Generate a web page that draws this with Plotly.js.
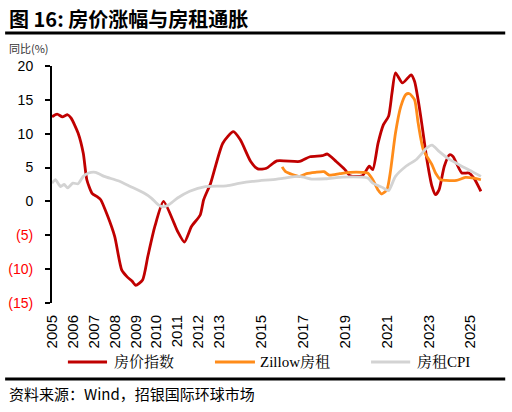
<!DOCTYPE html>
<html><head><meta charset="utf-8">
<script src="https://cdn.plot.ly/plotly-3.0.1.min.js"></script>
<style>html,body{margin:0;padding:0;background:#fff;}#chart{width:512px;height:412px;}</style>
</head><body><div id="chart"></div>
<script>
// 房价指数 (Case-Shiller YoY %)
const hpDates = ['2005-01','2005-04','2005-07','2005-10','2005-12','2006-04','2006-07','2006-09','2006-12','2007-03','2007-05','2007-09','2008-01','2008-05','2008-08','2008-11','2009-01','2009-05','2009-08','2009-12','2010-05','2010-11','2011-01','2011-05','2011-09','2012-02','2012-04','2012-08','2013-03','2013-09','2014-01','2014-07','2014-11','2015-04','2015-10','2016-11','2017-05','2017-12','2018-03','2018-08','2019-01','2019-04','2019-11','2020-03','2020-05','2020-08','2020-11','2021-02','2021-04','2021-06','2021-10','2022-03','2022-05','2022-07','2022-09','2022-12','2023-03','2023-05','2023-07','2023-10','2024-01','2024-03','2024-08','2024-12','2025-03','2025-07'];
const hpValues = [12.5,12.9,12.5,12.8,12.3,10.1,7.1,3.2,1.2,0.7,0.25,-2.2,-5.2,-10.1,-11.1,-11.8,-12.4,-11.6,-8.1,-3.7,0.0,-3.2,-4.4,-6.0,-3.7,-2.0,0.25,2.7,8.6,10.3,9.1,5.9,4.8,4.9,6.0,5.9,6.6,6.75,7.0,5.9,4.7,3.8,3.8,5.2,4.7,8.6,11.3,12.6,16.0,19.0,17.5,18.7,17.7,15.0,11.6,6.2,2.2,1.0,1.7,5.2,6.9,6.65,4.2,4.2,3.45,1.5];

// Zillow房租
const zwDates = ['2016-01','2016-03','2016-11','2017-03','2017-08','2018-01','2018-04','2018-10','2019-04','2019-11','2020-02','2020-05','2020-08','2020-10','2021-01','2021-03','2021-06','2021-09','2021-12','2022-02','2022-05','2022-07','2022-10','2023-03','2023-05','2023-08','2023-11','2024-05','2024-10','2025-03','2025-07'];
const zwValues = [5.1,4.4,3.7,4.1,4.3,4.4,3.9,4.1,4.3,4.3,4.2,3.2,1.7,1.1,1.7,4.2,10.1,14.0,15.8,15.9,15.0,11.6,7.6,5.4,4.2,3.2,3.1,3.1,3.55,3.45,3.2];

// 房租CPI
const cpiDates = ['2005-01','2005-03','2005-06','2005-08','2005-10','2006-01','2006-04','2006-07','2006-10','2007-02','2007-07','2008-03','2008-10','2009-06','2009-10','2010-02','2010-05','2010-08','2011-01','2011-08','2012-05','2013-05','2014-01','2014-08','2015-10','2016-02','2016-11','2017-06','2018-02','2018-12','2020-02','2020-05','2020-11','2021-02','2021-06','2021-12','2022-06','2022-12','2023-03','2023-07','2024-01','2024-08','2025-02','2025-07'];
const cpiValues = [2.7,3.2,2.2,2.5,2.0,2.7,2.6,3.7,4.2,4.3,3.7,3.05,2.2,1.2,0.5,-0.5,-0.8,-0.5,0.5,1.5,2.2,2.3,2.7,2.95,3.3,3.45,3.7,3.3,3.35,3.6,3.45,2.7,2.0,1.6,3.7,5.2,6.2,7.9,8.3,7.4,6.2,5.2,4.4,3.7];

const seriesNames = ['房价指数','Zillow房租','房租CPI'];
const seriesColors = ['#C00000','#FF8C1A','#D3D3D3'];
const tickYears = ['2005','2006','2007','2008','2009','2010','2011','2012','2013','2014','2015','2016','2017','2018','2019','2020','2021','2022','2023','2024','2025'];
const labelYears = ['2005','2006','2007','2008','2009','2010','2011','2012','2013','2015','2017','2019','2021','2023','2025'];
const yTickVals = [20,15,10,5,0,-5,-10,-15];
const yTickText = ['20','15','10','5','0','(5)','(10)','(15)'];

const xRange = ['2005-01-01','2025-07-20'];
const fontCJK = '"Noto Sans CJK SC", "Liberation Sans", sans-serif';
const fontLegend = '"Liberation Serif", "Noto Serif CJK SC", "Noto Sans CJK SC", serif';
const sansFont = '"Liberation Sans", Arial, sans-serif';

const xs = [hpDates, zwDates, cpiDates];
const ys = [hpValues, zwValues, cpiValues];
const traces = xs.map((x, i) => ({
  x: x, y: ys[i], name: seriesNames[i], type: 'scatter', mode: 'lines',
  line: {color: seriesColors[i], width: 2.8, shape: 'spline', smoothing: 0.6}
}));

const yText = yTickText.map((t, i) => yTickVals[i] < 0 ? '<span style="color:#FF0000">' + t + '</span>' : t);

// manual legend placement (paper coords)
const legX = [[0.037, 0.128, 0.140], [0.379, 0.472, 0.479], [0.742, 0.833, 0.845]];
const legY = -0.249;

const shapes = [
  {type: 'line', xref: 'paper', yref: 'paper', x0: -0.109, x1: 1.054, y0: 1.139, y1: 1.139, line: {color: '#000', width: 3}},
  {type: 'line', xref: 'paper', yref: 'paper', x0: -0.109, x1: 1.054, y0: -0.321, y1: -0.321, line: {color: '#000', width: 3}}
];
const annotations = [
  {text: '<b>图 16: 房价涨幅与房租通胀</b>', xref: 'paper', yref: 'paper', x: -0.104, y: 1.2025,
   xanchor: 'left', yanchor: 'middle', showarrow: false, font: {size: 20, family: fontCJK, color: '#000'}},
  {text: '同比(%)', xref: 'paper', yref: 'paper', x: -0.104, y: 1.074,
   xanchor: 'left', yanchor: 'middle', showarrow: false, font: {size: 11, family: fontCJK, color: '#333'}},
  {text: '资料来源：Wind，招银国际环球市场', xref: 'paper', yref: 'paper', x: -0.104, y: -0.380,
   xanchor: 'left', yanchor: 'middle', showarrow: false, font: {size: 15, family: fontCJK, color: '#000'}}
];
seriesNames.forEach((n, i) => {
  shapes.push({type: 'line', xref: 'paper', yref: 'paper', x0: legX[i][0], x1: legX[i][1], y0: legY, y1: legY,
    line: {color: seriesColors[i], width: 3}});
  annotations.push({text: n, xref: 'paper', yref: 'paper', x: legX[i][2], y: legY, xanchor: 'left', yanchor: 'middle',
    showarrow: false, font: {size: 15, family: fontLegend, color: '#000'}});
});

const layout = {
  width: 512, height: 412,
  margin: {l: 52, r: 30, t: 66, b: 109},
  paper_bgcolor: '#fff', plot_bgcolor: '#fff',
  showlegend: false,
  font: {family: sansFont, size: 14, color: '#000'},
  xaxis: {
    type: 'date', range: xRange, showgrid: false, zeroline: false, showline: false,
    tickmode: 'array', tickvals: labelYears.map(y => y + '-01-01'), ticktext: labelYears,
    tickangle: -90, ticks: '', ticklabelstandoff: 8, tickfont: {size: 15, family: sansFont}
  },
  xaxis2: {
    type: 'date', range: xRange, overlaying: 'x', anchor: 'free', position: 15/35,
    showgrid: false, zeroline: false, showline: true, linecolor: '#000', linewidth: 2,
    tickmode: 'array', tickvals: tickYears.map(y => y + '-01-01'), showticklabels: false,
    ticks: 'outside', ticklen: 5, tickwidth: 2, tickcolor: '#000'
  },
  yaxis: {
    range: [-15, 20], showgrid: false, zeroline: false, showline: true, linecolor: '#000', linewidth: 2,
    tickmode: 'array', tickvals: yTickVals, ticktext: yText,
    ticks: 'outside', ticklen: 5, tickwidth: 2, tickcolor: '#000', ticklabelstandoff: 9,
    tickfont: {size: 14, family: sansFont}
  },
  shapes: shapes,
  annotations: annotations
};

Plotly.newPlot('chart', traces, layout, {displayModeBar: false, staticPlot: true});
</script>
</body></html>
